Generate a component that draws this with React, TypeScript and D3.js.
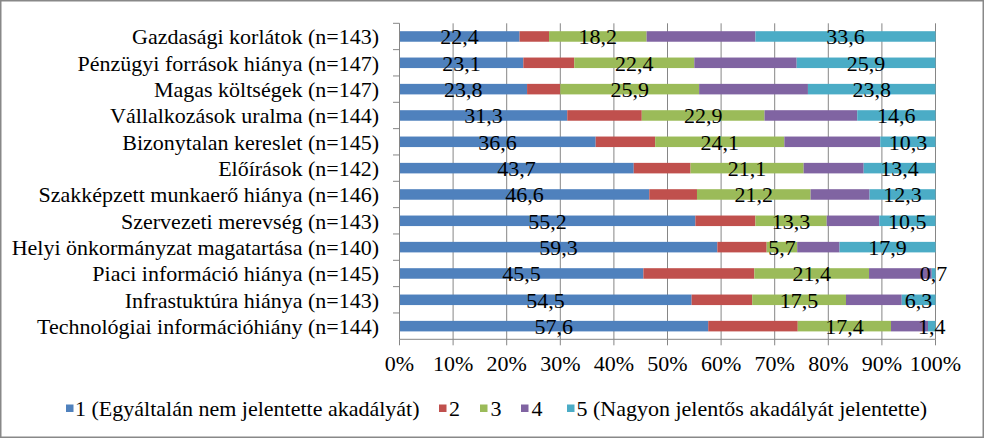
import React from "react";
import * as d3 from "d3";

const categories = [
  "Gazdasági korlátok (n=143)",
  "Pénzügyi források hiánya (n=147)",
  "Magas költségek (n=147)",
  "Vállalkozások uralma (n=144)",
  "Bizonytalan kereslet (n=145)",
  "Előírások (n=142)",
  "Szakképzett munkaerő hiánya (n=146)",
  "Szervezeti merevség (n=143)",
  "Helyi önkormányzat magatartása (n=140)",
  "Piaci információ hiánya (n=145)",
  "Infrastuktúra hiánya (n=143)",
  "Technológiai információhiány (n=144)",
];

const seriesNames = [
  "1 (Egyáltalán nem jelentette akadályát)",
  "2",
  "3",
  "4",
  "5 (Nagyon jelentős akadályát jelentette)",
];

const s1 = [22.4, 23.1, 23.8, 31.3, 36.6, 43.7, 46.6, 55.2, 59.3, 45.5, 54.5, 57.6];
const s2 = [5.5, 9.5, 6.2, 13.9, 11.1, 10.6, 8.9, 11.2, 9.2, 20.7, 11.3, 16.7];
const s3 = [18.2, 22.4, 25.9, 22.9, 24.1, 21.1, 21.2, 13.3, 5.7, 21.4, 17.5, 17.4];
const s4 = [20.3, 19.1, 20.3, 17.3, 17.9, 11.2, 11.0, 9.8, 7.9, 11.7, 10.4, 6.9];
const s5 = [33.6, 25.9, 23.8, 14.6, 10.3, 13.4, 12.3, 10.5, 17.9, 0.7, 6.3, 1.4];

const showLabels = [true, false, true, false, true];
const colors = ["#4F81BD", "#C0504D", "#9BBB59", "#8064A2", "#4BACC6"];
const xTicks = [0, 10, 20, 30, 40, 50, 60, 70, 80, 90, 100];

const W = 984;
const H = 438;
const FONT = "'Times New Roman', 'Liberation Serif', serif";
const FS = 22;

export default function App() {
  const keys = ["s1", "s2", "s3", "s4", "s5"];
  const allSeries = [s1, s2, s3, s4, s5];
  const rows = categories.map((c, i) => {
    const total = allSeries.reduce((a, s) => a + s[i], 0);
    const r: any = { cat: c };
    keys.forEach((k, j) => (r[k] = (allSeries[j][i] / total) * 100));
    r.raw = allSeries.map((s) => s[i]);
    return r;
  });
  const stacked = d3.stack<any>().keys(keys)(rows);

  const x = d3.scaleLinear().domain([0, 100]).range([399.5, 935.5]);
  const y = d3
    .scaleBand<string>()
    .domain(categories)
    .range([23.3, 339.3])
    .paddingInner(0.6)
    .paddingOuter(0.3);
  const step = y.step();
  const top = 23.3;
  const bottom = 339.3;
  const grid = "#868686";
  const fmt = (v: number) => d3.format(".1f")(v).replace(".", ",");

  const legendItems = [
    { sq: 66, tx: 75 },
    { sq: 439, tx: 449 },
    { sq: 480, tx: 490.5 },
    { sq: 521, tx: 531.5 },
    { sq: 567, tx: 576.5 },
  ];

  return (
    <svg
      width={W}
      height={H}
      style={{ position: "absolute", left: 0, top: 0, background: "#fff", fontFamily: FONT }}
    >
      <rect x={0} y={0} width={W} height={H} fill="#fff" />
      {/* gridlines */}
      {xTicks.slice(1).map((t) => (
        <line key={"g" + t} x1={x(t)} x2={x(t)} y1={top} y2={bottom} stroke={grid} strokeWidth={1} />
      ))}
      {/* bars */}
      {stacked.map((layer, si) => (
        <g key={"l" + si} fill={colors[si]}>
          {layer.map((d, i) => (
            <rect
              key={i}
              x={x(d[0])}
              width={x(d[1]) - x(d[0])}
              y={y(categories[i])}
              height={y.bandwidth()}
            />
          ))}
        </g>
      ))}
      {/* axes */}
      <line x1={399.5} x2={399.5} y1={top} y2={bottom} stroke={grid} strokeWidth={1} />
      {categories.map((c, i) => (
        <line key={"yt" + i} x1={393} x2={399.5} y1={top + i * step} y2={top + i * step} stroke={grid} />
      ))}
      <line x1={399.5} x2={x(100)} y1={bottom} y2={bottom} stroke={grid} strokeWidth={1} />
      {xTicks.map((t) => (
        <line key={"xt" + t} x1={x(t)} x2={x(t)} y1={bottom} y2={bottom + 6} stroke={grid} />
      ))}
      {xTicks.map((t) => (
        <text key={"xl" + t} x={x(t)} y={371} textAnchor="middle" fontSize={FS} fill="#000">
          {t}%
        </text>
      ))}
      {/* category labels */}
      {categories.map((c) => (
        <text
          key={c}
          x={379}
          y={(y(c) as number) + y.bandwidth() / 2}
          dy="0.35em"
          textAnchor="end"
          fontSize={FS}
          fill="#000"
        >
          {c}
        </text>
      ))}
      {/* data labels */}
      {stacked.map((layer, si) =>
        showLabels[si]
          ? layer.map((d, i) => (
              <text
                key={"dl" + si + "-" + i}
                x={(x(d[0]) + x(d[1])) / 2}
                y={(y(categories[i]) as number) + y.bandwidth() / 2}
                dy="0.35em"
                textAnchor="middle"
                fontSize={FS}
                fill="#000"
              >
                {fmt(rows[i].raw[si])}
              </text>
            ))
          : null
      )}
      {/* legend */}
      {legendItems.map((it, i) => (
        <g key={"lg" + i}>
          <rect x={it.sq} y={404.5} width={7.5} height={7.5} fill={colors[i]} />
          <text x={it.tx} y={408} dy="0.35em" fontSize={FS} fill="#000">
            {seriesNames[i]}
          </text>
        </g>
      ))}
      {/* border */}
      <rect x={0.75} y={0.75} width={W - 1.5} height={H - 1.5} fill="none" stroke="#888" strokeWidth={1.5} />
    </svg>
  );
}
